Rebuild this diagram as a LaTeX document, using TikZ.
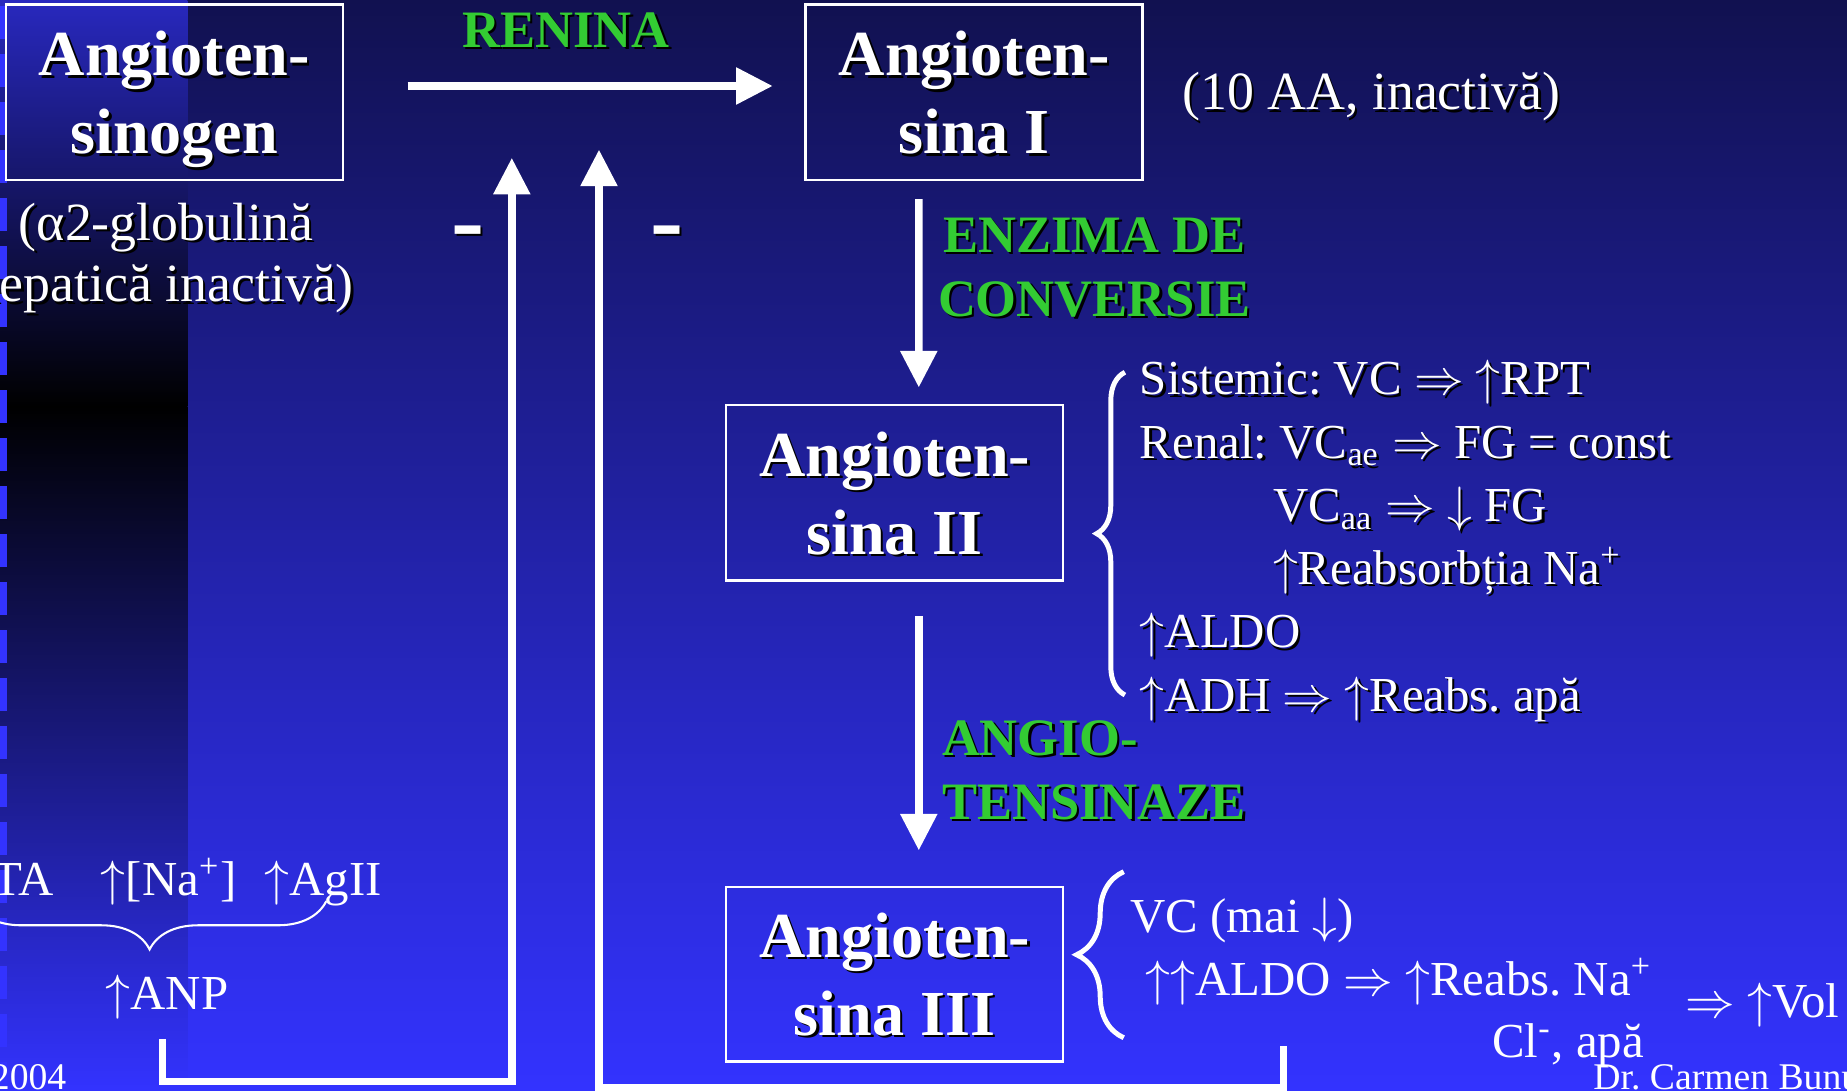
\documentclass[tikz,border=0pt]{standalone}
\usepackage{fontspec}
\setmainfont{Liberation Serif}
\usetikzlibrary{arrows.meta,decorations.pathreplacing}

\definecolor{bgtop}{RGB}{17,17,80}
\definecolor{bgbot}{RGB}{51,51,255}
\definecolor{paneltop}{RGB}{40,40,190}
\definecolor{enzgreen}{RGB}{51,204,51}

% white text with a small black drop shadow
\newcommand{\shd}[1]{\leavevmode\rlap{\kern0.6pt\raisebox{-0.6pt}{\color{black}#1}}#1}
\frenchspacing

\begin{document}
\begin{tikzpicture}[
    box/.style={draw=white, line width=0.6pt, text=white, align=center,
        minimum width=2.86cm, minimum height=1.49cm, inner sep=0pt, text depth=0pt,
        font=\bfseries\fontsize{15.5}{18.8}\selectfont},
    enz/.style={text=enzgreen, inner sep=0pt, font=\bfseries\fontsize{12.7}{15.4}\selectfont},
    txt/.style={text=white, inner sep=0pt, font=\fontsize{11.8}{14}\selectfont},
    big/.style={text=white, inner sep=0pt, font=\fontsize{13}{15}\selectfont},
    small/.style={text=white, inner sep=0pt, font=\fontsize{9.1}{11}\selectfont},
    minus/.style={text=white, inner sep=0pt, anchor=base, font=\bfseries\fontsize{24}{28}\selectfont},
    flow/.style={draw=white, line width=1.8pt, -{Triangle[length=0.31cm,width=0.30cm]}},
]
    % Background
    \useasboundingbox (0,0) rectangle (15.68,9.26);
    \clip (0,0) rectangle (15.68,9.26);
    \shade[top color=bgtop, bottom color=bgbot] (0,0) rectangle (15.68,9.26);
    \shade[top color=paneltop, bottom color=black] (0,5.81) rectangle (1.59,9.26);
    \shade[top color=black, bottom color=bgbot] (0,0) rectangle (1.59,5.81);
    \foreach \k in {0,...,22}
        \fill[bgbot] (0,{9.21-0.4075*\k}) rectangle ++(0.06,-0.28);

    % Boxes
    \node[box] (angA) at (1.48,8.475) {\shd{Angioten-}\\\shd{sinogen}};
    \node[box] (angI) at (8.27,8.475) {\shd{Angioten-}\\\shd{sina I}};
    \node[box] (angII) at (7.595,5.075) {\shd{Angioten-}\\\shd{sina II}};
    \node[box, minimum height=1.48cm] (angIII) at (7.595,0.99) {\shd{Angioten-}\\\shd{sina III}};

    % Enzymes
    \node[enz, anchor=base] (renina) at (4.805,8.86) {\shd{RENINA}};
    \node[enz, align=center] (eca) at (9.29,6.98) {\shd{ENZIMA DE}\\\shd{CONVERSIE}};
    \node[enz, align=left, anchor=north west] (atase) at (7.99,3.15) {\shd{ANGIO-}\\\shd{TENSINAZE}};

    % Notes
    \node[big, anchor=base] (glob1) at (1.41,7.22) {\shd{(α2-globulină}};
    \node[big, anchor=base east] (glob2) at (3.01,6.70) {\shd{hepatică inactivă)}};
    \node[big, anchor=base west] (aa10) at (10.03,8.33) {\shd{(10 AA, inactivă)}};

    % Effects of angiotensin II
    \draw[white, line width=1.2pt, decorate, decoration={brace, amplitude=0.24cm}]
        (9.55,3.36) -- (9.55,6.10);
    \node[txt, anchor=base west] (sis) at (9.67,5.91) {\shd{Sistemic: VC $\Rightarrow$ $\uparrow$RPT}};
    \node[txt, anchor=base west] (ren) at (9.67,5.37) {\shd{Renal: VC\textsubscript{ae} $\Rightarrow$ FG = const}};
    \node[txt, anchor=base west] (vcaa) at (10.80,4.83) {\shd{VC\textsubscript{aa} $\Rightarrow$ $\downarrow$ FG}};
    \node[txt, anchor=base west] (reabs) at (10.80,4.30) {\shd{$\uparrow$Reabsorbția Na\textsuperscript{+}}};
    \node[txt, anchor=base west] (aldo) at (9.67,3.76) {\shd{$\uparrow$ALDO}};
    \node[txt, anchor=base west] (adh) at (9.67,3.22) {\shd{$\uparrow$ADH $\Rightarrow$ $\uparrow$Reabs. apă}};

    % Effects of angiotensin III
    \draw[white, line width=1.2pt, decorate, decoration={brace, amplitude=0.40cm}]
        (9.54,0.45) -- (9.54,1.86);
    \node[txt, anchor=base west] (vcmai) at (9.59,1.34) {VC (mai $\downarrow$)};
    \node[txt, anchor=base west] (aldo3) at (9.72,0.81) {$\uparrow\uparrow$ALDO $\Rightarrow$ $\uparrow$Reabs. Na\textsuperscript{+}};
    \node[txt, anchor=base west] (clapa) at (12.66,0.28) {Cl\textsuperscript{-}, apă};
    \node[txt, anchor=base west] (vol) at (14.30,0.62) {$\Rightarrow$ $\uparrow$Vol};

    % ANP stimuli
    \node[txt, anchor=base east] (ta) at (0.46,1.66) {TA};
    \node[txt, anchor=base west] (na) at (0.85,1.66) {$\uparrow$[Na\textsuperscript{+}]};
    \node[txt, anchor=base west] (agii) at (2.24,1.66) {$\uparrow$AgII};
    \draw[white, line width=0.5pt, decorate, decoration={brace, amplitude=0.41cm}]
        (2.77,1.61) -- (-0.23,1.61);
    \node[txt, anchor=base west] (anp) at (0.89,0.69) {$\uparrow$ANP};

    % Footer
    \node[small, anchor=base east] (year) at (0.57,0.01) {2004};
    \node[small, anchor=base west] (author) at (13.52,0.01) {Dr. Carmen Bunu};

    % Cascade
    \draw[flow] ([xshift=0.54cm,yshift=0.055cm]angA.east) -- ([xshift=-0.27cm,yshift=0.055cm]angI.west);
    \draw[flow] ([xshift=-0.47cm,yshift=-0.15cm]angI.south) -- ([xshift=0.205cm,yshift=0.14cm]angII.north);
    \draw[flow] ([xshift=0.205cm,yshift=-0.29cm]angII.south) -- ([xshift=0.205cm,yshift=0.30cm]angIII.north);

    % Feedback on renin
    \coordinate (tipA) at (4.345,7.92);
    \coordinate (tipB) at (5.085,7.99);
    \coordinate (busA) at (4.345,0.08);
    \coordinate (busB) at (5.085,0.03);
    \coordinate (volfoot) at (10.895,0.38);
    \draw[flow] (anp.south) ++(-0.04,-0.16) |- (busA) -- (tipA);
    \draw[flow] (volfoot) |- (busB) -- (tipB);
    \node[minus] (minA) at (3.97,7.11) {\shd{-}};
    \node[minus] (minB) at (5.66,7.11) {\shd{-}};
\end{tikzpicture}
\end{document}
